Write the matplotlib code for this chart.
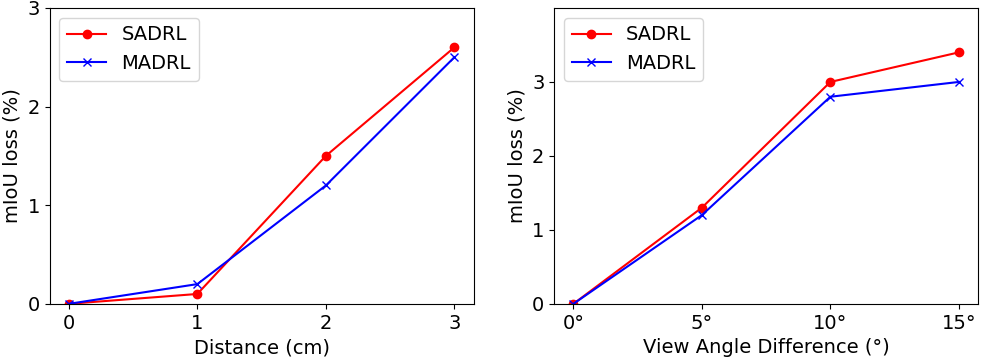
import matplotlib
matplotlib.use("Agg")
import matplotlib.pyplot as plt

distance = [0, 1, 2, 3]
sadrl_dist = [0, 0.1, 1.5, 2.6]
madrl_dist = [0, 0.2, 1.2, 2.5]

angles = [0, 5, 10, 15]
angle_labels = ["0°", "5°", "10°", "15°"]
sadrl_angle = [0, 1.3, 3.0, 3.4]
madrl_angle = [0, 1.2, 2.8, 3.0]

plt.rcParams['font.size'] = 14

fig, (ax1, ax2) = plt.subplots(1, 2, figsize=(9.92, 3.63), dpi=100)
fig.subplots_adjust(left=0.05, right=0.986, top=0.978, bottom=0.163, wspace=0.19)

ax1.plot(distance, sadrl_dist, 'r-o', label='SADRL')
ax1.plot(distance, madrl_dist, 'b-x', label='MADRL')
ax1.set_xticks(distance)
ax1.set_yticks([0, 1, 2, 3])
ax1.set_ylim(0, 3)
ax1.set_xlabel("Distance (cm)")
ax1.set_ylabel("mIoU loss (%)")
ax1.legend(loc='upper left')

ax2.plot(angles, sadrl_angle, 'r-o', label='SADRL')
ax2.plot(angles, madrl_angle, 'b-x', label='MADRL')
ax2.set_xticks(angles)
ax2.set_xticklabels(angle_labels)
ax2.set_yticks([0, 1, 2, 3])
ax2.set_ylim(0, 4)
ax2.set_xlabel("View Angle Difference (°)")
ax2.set_ylabel("mIoU loss (%)")
ax2.legend(loc='upper left')

fig.savefig("out.png")
